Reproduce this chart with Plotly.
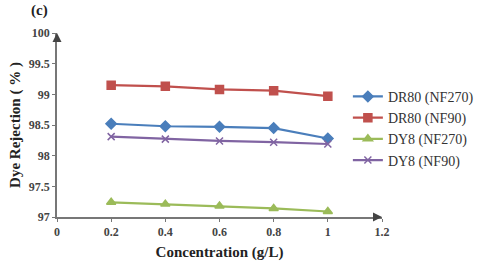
import plotly.graph_objects as go

conc = [0.2, 0.4, 0.6, 0.8, 1.0]
dr80_nf270 = [98.52, 98.48, 98.47, 98.45, 98.28]
dr80_nf90 = [99.15, 99.13, 99.08, 99.06, 98.97]
dy8_nf270 = [97.24, 97.21, 97.18, 97.14, 97.09]
dy8_nf90 = [98.31, 98.27, 98.24, 98.22, 98.19]
x_ticks = [0, 0.2, 0.4, 0.6, 0.8, 1, 1.2]
x_ticklabels = ["0", "0.2", "0.4", "0.6", "0.8", "1", "1.2"]
y_ticks = [97, 97.5, 98, 98.5, 99, 99.5, 100]
y_ticklabels = ["97", "97.5", "98", "98.5", "99", "99.5", "100"]

series = [
    ("DR80 (NF270)", dr80_nf270, "#4a7ebb", "diamond", 8),
    ("DR80 (NF90)", dr80_nf90, "#c0504d", "square", 8),
    ("DY8 (NF270)", dy8_nf270, "#9bbb59", "triangle-up", 8),
    ("DY8 (NF90)", dy8_nf90, "#8064a2", "x-thin", 7),
]

fig = go.Figure()
for name, vals, col, sym, sz in series:
    fig.add_trace(go.Scatter(
        x=conc, y=vals, name=name, mode="lines+markers",
        line=dict(color=col, width=2.2),
        marker=dict(symbol=sym, size=sz, color=col, line=dict(color=col, width=1.5)),
    ))

serif = "Liberation Serif, Times New Roman, serif"
fig.update_layout(
    width=480, height=265,
    margin=dict(l=57, r=98, t=33, b=48, autoexpand=False),
    paper_bgcolor="white", plot_bgcolor="white",
    font=dict(family=serif, color="#333"),
    showlegend=True,
    legend=dict(x=0.895, y=0.74, xanchor="left", yanchor="top",
                font=dict(family=serif, size=14, color="#333"),
                tracegroupgap=0, itemwidth=30, bgcolor="rgba(0,0,0,0)"),
    xaxis=dict(range=[0, 1.2], tickvals=x_ticks, ticktext=x_ticklabels, automargin=False,
               showgrid=False, zeroline=False, showline=True, linecolor="#777", linewidth=1.5,
               ticks="outside", ticklen=3, tickcolor="#777",
               tickfont=dict(family=serif, size=12, color="#444", weight="bold"),
               title=dict(text="<b>Concentration (g/L)</b>", font=dict(family=serif, size=15, color="#222"), standoff=8)),
    yaxis=dict(range=[97, 100], tickvals=y_ticks, ticktext=y_ticklabels, automargin=False,
               showgrid=False, zeroline=False, showline=True, linecolor="#777", linewidth=1.5,
               ticks="outside", ticklen=3, tickcolor="#777",
               tickfont=dict(family=serif, size=12, color="#444", weight="bold"),
               title=dict(text="<b>Dye Rejection ( % )</b>", font=dict(family=serif, size=15, color="#222"), standoff=5)),
)

# axis arrowheads
fig.add_annotation(x=1.0, y=0, xref="paper", yref="paper", ax=-6, ay=0,
                   showarrow=True, arrowhead=2, arrowsize=1.2, arrowwidth=1.5, arrowcolor="#444", text="")
fig.add_annotation(x=0, y=1.0, xref="paper", yref="paper", ax=0, ay=6,
                   showarrow=True, arrowhead=2, arrowsize=1.2, arrowwidth=1.5, arrowcolor="#444", text="")
fig.add_annotation(x=-0.053, y=1.125, xref="paper", yref="paper", text="<b>(c)</b>", showarrow=False,
                   xanchor="center", yanchor="middle",
                   font=dict(family=serif, size=15, color="#222"))

fig.write_html("out.html", config={"displayModeBar": False},
               post_script="document.body.style.margin='0';")
